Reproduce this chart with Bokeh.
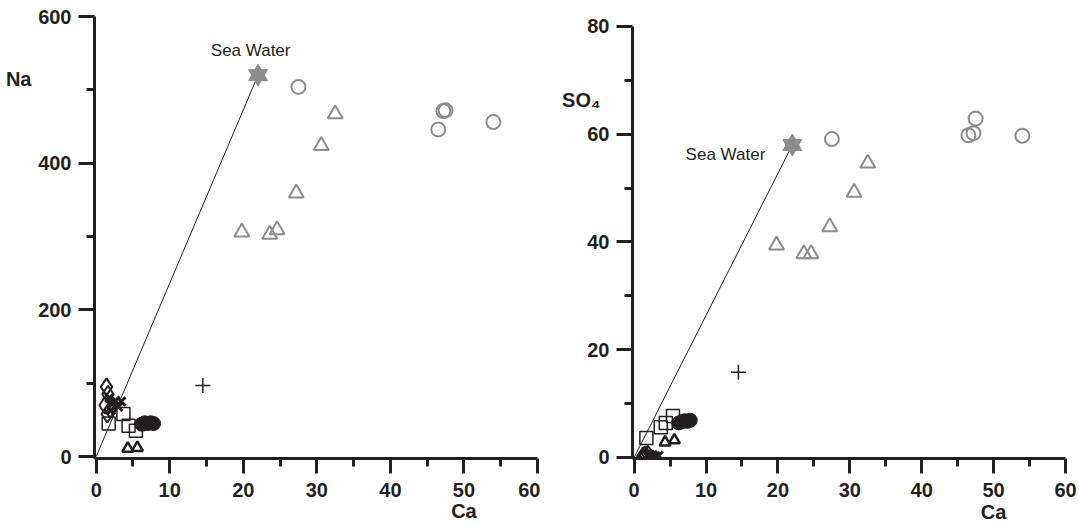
from bokeh.plotting import figure
from bokeh.layouts import row
from bokeh.models import Label, Range1d, FixedTicker, LinearAxis
from bokeh.embed import file_html
from bokeh.resources import INLINE

# ---------------- data ----------------
# diamonds (black, open)
dia_ca = [1.4, 1.5, 1.2, 1.6, 1.9]
dia_na = [95, 58, 70, 85, 64]
dia_so4 = [0.3, 0.5, 0.2, 0.4, 0.6]
# x marks (black)
x_ca = [1.8, 2.2, 2.6, 3.0, 2.0, 3.4]
x_na = [80, 72, 76, 68, 63, 75]
x_so4 = [0.3, 0.5, 0.4, 0.2, 0.6, 0.3]
# squares (black, open)
sq_ca = [1.7, 3.7, 4.4, 5.4]
sq_na = [45, 58, 42, 35]
sq_so4 = [3.6, 5.6, 6.4, 7.7]
# small triangles (black, open)
tb_ca = [4.3, 5.6]
tb_na = [11, 12]
tb_so4 = [2.8, 3.2]
# filled circles (black)
fc_ca = [6.2, 6.6, 7.0, 7.4, 7.8]
fc_na = [44, 46, 45, 46, 45]
fc_so4 = [6.4, 6.6, 6.8, 6.7, 6.9]
# gray open circles
gc_ca = [27.5, 47.2, 47.5, 46.5, 54.0]
gc_na = [504, 471, 472, 446, 456]
gc_so4 = [59.1, 60.2, 62.9, 59.8, 59.7]
# gray open triangles
gt_ca = [32.5, 30.6, 27.2, 19.8, 23.6, 24.6]
gt_na = [467, 424, 359, 306, 303, 309]
gt_so4 = [54.6, 49.2, 42.8, 39.4, 37.8, 37.8]
# cross
cr_ca = [14.5]
cr_na = [97]
cr_so4 = [15.8]
# sea water
sw_ca = [22.0]
sw_na = [520]
sw_so4 = [58.0]

x_ticks = [0, 10, 20, 30, 40, 50, 60]
na_ticks = [0, 200, 400, 600]
so4_ticks = [0, 20, 40, 60, 80]

INK = "#231f20"
GRAY = "#8c8c8c"
FONT = "Liberation Sans"


def style(p, xt, yt, xminor, yminor):
    p.xgrid.visible = False
    p.ygrid.visible = False
    p.outline_line_color = None
    p.background_fill_color = "white"
    p.border_fill_color = "white"
    p.xaxis.ticker = FixedTicker(ticks=xt, minor_ticks=xminor)
    p.yaxis.ticker = FixedTicker(ticks=yt, minor_ticks=yminor)
    for ax in (p.xaxis, p.yaxis):
        ax.axis_line_width = 3
        ax.axis_line_color = INK
        ax.major_tick_line_width = 3
        ax.major_tick_line_color = INK
        ax.minor_tick_line_width = 3
        ax.minor_tick_line_color = INK
        ax.major_tick_in = 0
        ax.minor_tick_in = 0
        ax.major_label_text_font = FONT
        ax.major_label_text_font_style = "bold"
        ax.major_label_text_font_size = "20px"
        ax.major_label_text_color = INK
    p.xaxis.major_tick_out = 15
    p.xaxis.minor_tick_out = 8
    p.xaxis.major_label_standoff = 9
    p.yaxis.major_tick_out = 16
    p.yaxis.minor_tick_out = 8
    p.yaxis.major_label_standoff = 7


def name_axis(p, side, pos, text, standoff):
    ax = LinearAxis(ticker=FixedTicker(ticks=[pos]),
                    major_label_overrides={pos: text})
    ax.axis_line_color = None
    ax.major_tick_line_color = None
    ax.minor_tick_line_color = None
    ax.major_tick_out = 0
    ax.major_tick_in = 0
    ax.minor_tick_out = 0
    ax.minor_tick_in = 0
    ax.major_label_standoff = standoff
    ax.major_label_text_font = FONT
    ax.major_label_text_font_style = "bold"
    ax.major_label_text_font_size = "20px"
    ax.major_label_text_color = INK
    p.add_layout(ax, side)


def add_points(p, ys):
    d, xm, sq, tb, fc, gc, gt, cr, sw = ys
    p.scatter(gc_ca, gc, marker="circle", size=14, fill_alpha=0,
              line_color=GRAY, line_width=2)
    p.scatter(gt_ca, gt, marker="triangle", size=15, fill_alpha=0,
              line_color=GRAY, line_width=2)
    p.scatter(cr_ca, cr, marker="cross", size=15, line_color=INK, line_width=1.5)
    p.scatter(sq_ca, sq, marker="square", size=13, fill_alpha=0,
              line_color=INK, line_width=1.5)
    p.scatter(tb_ca, tb, marker="triangle", size=11, fill_alpha=0,
              line_color=INK, line_width=2.5)
    p.scatter(dia_ca, d, marker="diamond", size=17, fill_alpha=0,
              line_color=INK, line_width=2)
    p.scatter(x_ca, xm, marker="x", size=12, line_color=INK, line_width=3)
    p.scatter(fc_ca, fc, marker="circle", size=14, fill_color=INK,
              line_color=INK)
    p.line([0, sw_ca[0]], [0, sw[0]], line_color=INK, line_width=1)
    p.scatter(sw_ca, sw, marker="triangle", size=19, fill_color=GRAY,
              line_color=GRAY)
    p.scatter(sw_ca, sw, marker="inverted_triangle", size=19, fill_color=GRAY,
              line_color=GRAY)


# ---------------- left: Na vs Ca ----------------
p1 = figure(width=540, height=526, frame_width=443, frame_height=442,
            min_border_left=94, min_border_right=3, min_border_top=16,
            min_border_bottom=68, x_range=Range1d(-0.23, 60),
            y_range=Range1d(-2.7, 600), output_backend="svg",
            toolbar_location=None)
style(p1, x_ticks, na_ticks, [5, 15, 25, 35, 45, 55], [100, 300, 500])
add_points(p1, (dia_na, x_na, sq_na, tb_na, fc_na, gc_na, gt_na, cr_na, sw_na))
name_axis(p1, "left", 515, "Na", 4)
name_axis(p1, "below", 50, "Ca", 0)
p1.add_layout(Label(x=21.0, y=554, text="Sea Water", text_align="center",
                    text_baseline="middle", text_font=FONT,
                    text_font_size="17px", text_color=INK))

# ---------------- right: SO4 vs Ca ----------------
p2 = figure(width=539, height=526, frame_width=433, frame_height=442,
            min_border_left=92, min_border_right=14, min_border_top=16,
            min_border_bottom=68, x_range=Range1d(-0.23, 60),
            y_range=Range1d(-0.2, 81.85), output_backend="svg",
            toolbar_location=None)
style(p2, x_ticks, so4_ticks, [5, 15, 25, 35, 45, 55], [10, 30, 50, 70])
p2.yaxis.bounds = (-0.2, 80)
add_points(p2, (dia_so4, x_so4, sq_so4, tb_so4, fc_so4, gc_so4, gt_so4,
                cr_so4, sw_so4))
name_axis(p2, "left", 66.3, "SO\u2084", -16)
name_axis(p2, "below", 50, "Ca", 1)
p2.add_layout(Label(x=12.7, y=56.2, text="Sea Water", text_align="center",
                    text_baseline="middle", text_font=FONT,
                    text_font_size="17px", text_color=INK))

layout = row(p1, p2)
open("out.html", "w").write(file_html(layout, INLINE))
